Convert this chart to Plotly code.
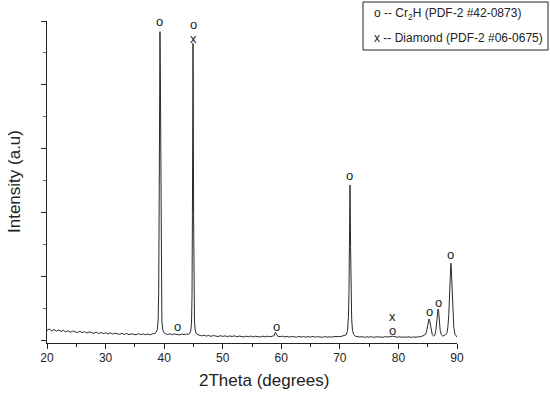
import plotly.graph_objects as go

# ---- data (2Theta in degrees, intensity in arbitrary counts) ----
base1_x = [20.0, 20.4, 20.8, 21.2, 21.6, 22.0, 22.4, 22.8, 23.2, 23.6, 24.0, 24.4, 24.8, 25.2, 25.6, 26.0,
           26.4, 26.8, 27.2, 27.6, 28.0, 28.4, 28.8, 29.2, 29.6, 30.0, 30.4, 30.8, 31.2, 31.6, 32.0, 32.4,
           32.8, 33.2, 33.6, 34.0, 34.4, 34.8, 35.2, 35.6, 36.0, 36.4, 36.8, 37.2, 37.6, 38.0, 38.4]
base1_y = [300, 345, 285, 330, 280, 315, 265, 305, 255, 290, 240, 285, 255, 232, 275, 230,
           262, 220, 255, 225, 208, 245, 202, 236, 198, 228, 190, 222, 184, 215, 190, 176,
           210, 172, 204, 166, 195, 170, 162, 198, 168, 192, 165, 190, 164, 194, 205]
peak1_x = [38.64, 38.84, 38.97, 39.07, 39.15, 39.22, 39.29, 39.36, 39.43, 39.51, 39.61, 39.75, 39.94]
peak1_y = [240, 330, 600, 1500, 4200, 8200, 9665, 8200, 4000, 1400, 600, 330, 230]
base2_x = [40.2, 40.6, 41.0, 41.4, 41.8, 42.2, 42.6, 43.0, 43.4, 43.8, 44.1, 44.4]
base2_y = [200, 172, 196, 166, 190, 175, 160, 186, 168, 188, 175, 215]
peak2_x = [44.56, 44.68, 44.76, 44.83, 44.89, 44.93, 44.97, 45.03, 45.10, 45.18, 45.28, 45.43, 45.63]
peak2_y = [300, 560, 1400, 4000, 7800, 9300, 7800, 3900, 1400, 600, 330, 220, 175]
base3_x = [46.0, 46.4, 46.8, 47.2, 47.6, 48.0, 48.4, 48.8, 49.2, 49.6, 50.0, 50.4, 50.8, 51.2, 51.6, 52.0,
           52.4, 52.8, 53.2, 53.6, 54.0, 54.4, 54.8, 55.2, 55.6, 56.0, 56.4, 56.8, 57.2, 57.6, 58.0, 58.4]
base3_y = [150, 128, 152, 122, 144, 114, 140, 118, 108, 136, 112, 130, 104, 128, 110, 132,
           102, 124, 106, 96, 122, 100, 126, 94, 118, 100, 92, 122, 98, 119, 104, 114]
bump_x = [58.8, 59.0, 59.15, 59.4]
bump_y = [140, 240, 175, 115]
base4_x = [59.8, 60.2, 60.6, 61.0, 61.4, 61.8, 62.2, 62.6, 63.0, 63.4, 63.8, 64.2, 64.6, 65.0,
           65.4, 65.8, 66.2, 66.6, 67.0, 67.4, 67.8, 68.2, 68.6, 69.0, 69.4, 69.8, 70.2, 70.6]
base4_y = [104, 120, 96, 114, 92, 110, 98, 88, 112, 94, 106, 88, 108, 92,
           112, 88, 104, 94, 84, 108, 90, 102, 88, 106, 96, 107, 112, 130]
peak3_x = [71.11, 71.31, 71.46, 71.56, 71.64, 71.69, 71.73, 71.77, 71.83, 71.92, 72.02, 72.16, 72.36, 72.61]
peak3_y = [165, 300, 700, 1500, 3000, 4400, 4860, 4400, 2900, 1400, 650, 300, 170, 120]
base5_x = [73.0, 73.4, 73.8, 74.2, 74.6, 75.0, 75.4, 75.8, 76.2, 76.6, 77.0, 77.4, 77.8, 78.2, 78.6,
           79.0, 79.4, 79.8, 80.2, 80.6, 81.0, 81.4, 81.8, 82.2, 82.6, 83.0, 83.4, 83.8, 84.2]
base5_y = [108, 92, 106, 84, 102, 88, 104, 82, 100, 90, 102, 86, 106, 94, 108,
           118, 104, 88, 102, 82, 98, 86, 100, 82, 96, 86, 102, 104, 130]
peak4_x = [84.64, 84.84, 84.99, 85.11, 85.22, 85.33, 85.45, 85.60, 85.79, 86.04]
peak4_y = [180, 300, 470, 610, 660, 610, 470, 290, 160, 120]
peak5_x = [86.21, 86.39, 86.53, 86.65, 86.76, 86.87, 86.99, 87.13, 87.31, 87.56, 87.81, 88.05]
peak5_y = [150, 300, 600, 880, 970, 880, 600, 300, 170, 125, 140, 170]
peak6_x = [88.30, 88.45, 88.60, 88.72, 88.82, 88.89, 88.95, 89.01, 89.08, 89.18, 89.30, 89.45, 89.65, 90.0]
peak6_y = [230, 420, 800, 1400, 2000, 2330, 2410, 2330, 2000, 1400, 800, 400, 180, 95]

# peak markers (o = Cr2H, x = Diamond)
mark_x = [39.29, 42.2, 44.93, 44.93, 59.1, 71.73, 79.07, 79.07, 85.22, 86.76, 88.85]
mark_y = [10000, 439, 9900, 9440, 439, 5172, 735, 300, 878, 1191, 2696]
mark_t = ["o", "o", "o", "x", "o", "o", "x", "o", "o", "o", "o"]

x_ticks = [20, 30, 40, 50, 60, 70, 80, 90]
legend_lines = ["o -- Cr<sub>2</sub>H (PDF-2 #42-0873)", "x -- Diamond (PDF-2 #06-0675)"]

two_theta = base1_x + peak1_x + base2_x + peak2_x + base3_x + bump_x + base4_x + peak3_x + \
    base5_x + peak4_x + peak5_x + peak6_x
intensity = base1_y + peak1_y + base2_y + peak2_y + base3_y + bump_y + base4_y + peak3_y + \
    base5_y + peak4_y + peak5_y + peak6_y

FONT = "Liberation Sans, Arial, sans-serif"
INK = "#222222"

fig = go.Figure()
fig.add_trace(go.Scatter(x=two_theta, y=intensity, mode="lines",
                         line=dict(color="#2a2a2a", width=1), hoverinfo="skip"))

W, H = 550, 396
ML, MR, MT, MB = 47, 93, 21, 53
PW, PH = W - ML - MR, H - MT - MB


def px_x(p):
    return (p - ML) / PW


def px_y(p):
    return (H - MB - p) / PH


annotations = []
for xv, yv, t in zip(mark_x, mark_y, mark_t):
    annotations.append(dict(x=xv, y=yv, xref="x", yref="y", text=t, showarrow=False,
                            font=dict(family=FONT, size=13, color=INK),
                            xanchor="center", yanchor="middle", borderpad=0))
annotations.append(dict(x=px_x(264), y=px_y(381), xref="paper", yref="paper", text="2Theta (degrees)",
                        showarrow=False, font=dict(family=FONT, size=17, color=INK),
                        xanchor="center", yanchor="middle"))
annotations.append(dict(x=px_x(14), y=px_y(182), xref="paper", yref="paper", text="Intensity (a.u)",
                        textangle=-90, showarrow=False, font=dict(family=FONT, size=17, color=INK),
                        xanchor="center", yanchor="middle"))
for i, line in enumerate(legend_lines):
    annotations.append(dict(x=px_x(372), y=px_y(14 + 24 * i), xref="paper", yref="paper",
                            text=line, showarrow=False, font=dict(family=FONT, size=12, color=INK),
                            xanchor="left", yanchor="middle"))

fig.update_layout(
    width=W, height=H,
    margin=dict(l=ML, r=MR, t=MT, b=MB, pad=0),
    paper_bgcolor="white", plot_bgcolor="white",
    showlegend=False,
    annotations=annotations,
    shapes=[dict(type="rect", xref="paper", yref="paper",
                 x0=px_x(363), x1=px_x(548), y0=px_y(50), y1=px_y(2),
                 line=dict(color=INK, width=1), fillcolor="rgba(0,0,0,0)")],
    xaxis=dict(range=[20, 90], showline=True, linecolor=INK, linewidth=1,
               ticks="outside", ticklen=5, tickwidth=1, tickcolor=INK,
               tickmode="array", tickvals=x_ticks, ticktext=[str(v) for v in x_ticks],
               minor=dict(dtick=5, tick0=20, ticks="outside", ticklen=3, tickcolor=INK),
               tickfont=dict(family=FONT, size=12, color=INK),
               showgrid=False, zeroline=False, ticklabelstandoff=-1),
    yaxis=dict(range=[-94, 10000], showline=True, linecolor=INK, linewidth=1,
               ticks="outside", ticklen=5, tickwidth=1, tickcolor=INK,
               dtick=2000, tick0=0,
               minor=dict(dtick=1000, tick0=0, ticks="outside", ticklen=3, tickcolor="#666666"),
               showticklabels=False, showgrid=False, zeroline=False),
)

fig.write_html("out.html", config={"displayModeBar": False, "staticPlot": True},
               post_script="document.body.style.margin='0px';")
